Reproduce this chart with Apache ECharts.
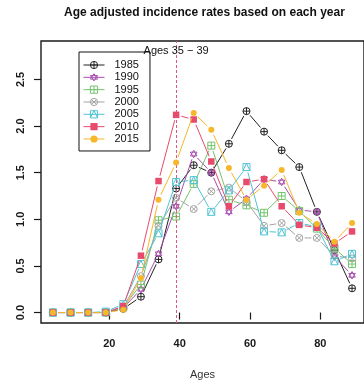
<!DOCTYPE html>
<html>
<head>
<meta charset="utf-8">
<script src="https://cdn.jsdelivr.net/npm/echarts@6/dist/echarts.min.js"></script>
<style>
  html, body { margin: 0; padding: 0; background: #fff; }
  #chart { width: 364px; height: 385px; }
</style>
</head>
<body>
<div id="chart"></div>
<script>
// Upper age of each five-year age group
const ages = [4, 9, 14, 19, 24, 29, 34, 39, 44, 49, 54, 59, 64, 69, 74, 79, 84, 89];

// Age adjusted incidence rates per year
const years = ['1985', '1990', '1995', '2000', '2005', '2010', '2015'];
const rate1985 = [0, 0, 0, 0, 0.04, 0.17, 0.57, 1.33, 1.58, 1.50, 1.81, 2.16, 1.94, 1.74, 1.56, 1.08, 0.67, 0.26];
const rate1990 = [0, 0, 0, 0, 0.05, 0.25, 0.63, 1.14, 1.70, 1.50, 1.08, 1.22, 1.43, 1.40, 1.10, 1.08, 0.60, 0.40];
const rate1995 = [0, 0, 0, 0, 0.06, 0.30, 0.99, 1.03, 1.38, 1.79, 1.21, 1.15, 1.07, 1.25, 1.09, 0.90, 0.69, 0.52];
const rate2000 = [0, 0, 0, 0, 0.06, 0.39, 0.93, 1.23, 1.11, 1.30, 1.34, 1.19, 0.93, 0.96, 0.80, 0.80, 0.61, 0.58];
const rate2005 = [0, 0, 0, 0.01, 0.09, 0.52, 0.85, 1.40, 1.42, 1.08, 1.31, 1.56, 0.87, 0.86, 0.96, 0.92, 0.55, 0.63];
const rate2010 = [0, 0, 0, 0, 0.07, 0.61, 1.41, 2.12, 2.07, 1.62, 1.14, 1.40, 1.43, 1.14, 0.94, 0.91, 0.74, 0.87];
const rate2015 = [0, 0, 0, 0, 0.03, 0.37, 1.21, 1.61, 2.14, 1.96, 1.55, 1.21, 1.36, 1.53, 1.07, 0.95, 0.76, 0.96];
const rates = [rate1985, rate1990, rate1995, rate2000, rate2005, rate2010, rate2015];

// Axis ticks
const xTicks = [20, 40, 60, 80];
const yTicks = [0, 0.5, 1.0, 1.5, 2.0, 2.5];

// Reference age group marker
const refAge = 39;
const refLabel = 'Ages 35 \u2212 39';
const refLabelY = 2.8;

const colors = ['#222222', '#A84EAF', '#74C46C', '#A3A3A3', '#4FC3D3', '#E84A6C', '#F6B72A'];

// Plot symbols: open shapes are stroked, the last two are filled
const circle = 'M-1,0A1,1,0,1,0,1,0A1,1,0,1,0,-1,0Z';
const symbols = [
  'path://' + circle + 'M-1,0L1,0M0,-1L0,1',
  'path://M0,-1L0.866,0.5L-0.866,0.5ZM0,1L0.866,-0.5L-0.866,-0.5Z',
  'path://M-1,-1L1,-1L1,1L-1,1ZM-1,0L1,0M0,-1L0,1',
  'path://' + circle + 'M-0.707,-0.707L0.707,0.707M-0.707,0.707L0.707,-0.707',
  'path://M-1,-1L1,-1L1,1L-1,1ZM-1,1L0,-1L1,1',
  'rect',
  'circle'
];
const filled = [false, false, false, false, false, true, true];
const symbolSizes = [7, 7.5, 7, 7, 7, 6.5, 6];

// Lines stop short of each point, leaving a gap around the symbol
const gap = 5.5;

const font = '"Liberation Sans", Arial, Helvetica, sans-serif';

function styleFor(k) {
  return filled[k]
    ? { color: colors[k], borderWidth: 0 }
    : { color: 'rgba(0,0,0,0)', borderColor: colors[k], borderWidth: 1 };
}

const series = [];
years.forEach((y, k) => {
  // connecting segments between neighbouring age groups
  const segs = [];
  for (let i = 1; i < ages.length; i++) {
    segs.push([ages[i - 1], rates[k][i - 1], ages[i], rates[k][i]]);
  }
  series.push({
    name: y + ' segments',
    type: 'custom',
    silent: true,
    data: segs,
    encode: { x: [0, 2], y: [1, 3] },
    z: 2 + k,
    renderItem: (params, api) => {
      const p0 = api.coord([api.value(0), api.value(1)]);
      const p1 = api.coord([api.value(2), api.value(3)]);
      const dx = p1[0] - p0[0], dy = p1[1] - p0[1];
      const len = Math.sqrt(dx * dx + dy * dy);
      if (len <= 2 * gap) return null;
      const ux = dx / len, uy = dy / len;
      return {
        type: 'line',
        shape: {
          x1: p0[0] + ux * gap, y1: p0[1] + uy * gap,
          x2: p1[0] - ux * gap, y2: p1[1] - uy * gap
        },
        style: { stroke: colors[k], lineWidth: 1 }
      };
    }
  });
  // the points themselves
  series.push({
    name: y,
    type: 'line',
    data: ages.map((a, i) => [a, rates[k][i]]),
    symbol: symbols[k],
    symbolSize: symbolSizes[k],
    symbolKeepAspect: true,
    showAllSymbol: true,
    lineStyle: { color: colors[k], width: 0, opacity: 0 },
    itemStyle: styleFor(k),
    emphasis: { disabled: true },
    z: 2 + k
  });
});

// Dashed reference line and its caption
series.push({
  name: 'ref',
  type: 'line',
  data: [],
  silent: true,
  markLine: {
    silent: true,
    symbol: ['none', 'none'],
    label: { show: false },
    lineStyle: { color: '#E2577F', type: [3, 2], width: 1 },
    data: [{ xAxis: refAge }]
  },
  markPoint: {
    silent: true,
    symbol: 'circle',
    symbolSize: 0,
    label: {
      show: true,
      position: 'inside',
      formatter: refLabel,
      color: '#111',
      fontFamily: font,
      fontSize: 11
    },
    data: [{ coord: [refAge, refLabelY] }]
  },
  z: 1
});

const chart = echarts.init(document.getElementById('chart'), null, { renderer: 'canvas' });
chart.setOption({
  animation: false,
  backgroundColor: '#fff',
  title: {
    text: 'Age adjusted incidence rates based on each year',
    left: 204.5,
    top: 7,
    padding: 0,
    textAlign: 'center',
    textStyle: { fontFamily: font, fontSize: 12, fontWeight: 'bold', color: '#111' }
  },
  legend: {
    data: years.map((y, k) => ({
      name: y,
      itemStyle: styleFor(k),
      lineStyle: { color: colors[k], width: 1, opacity: 1 }
    })),
    orient: 'vertical',
    left: 79,
    top: 52,
    padding: [7, 11, 6, 4],
    itemWidth: 21,
    itemHeight: 9,
    itemGap: 0.33,
    borderColor: '#111',
    borderWidth: 1,
    selectedMode: false,
    textStyle: { fontFamily: font, fontSize: 11, color: '#111', lineHeight: 12, padding: [0, 0, 0, 5] }
  },
  grid: {
    left: 41,
    top: 41,
    width: 327.3,
    height: 285.7,
    show: true,
    borderColor: '#1a1a1a',
    borderWidth: 1.4,
    backgroundColor: 'transparent'
  },
  xAxis: {
    type: 'value',
    min: 0.6,
    max: 92.4,
    name: 'Ages',
    nameLocation: 'middle',
    nameGap: 46,
    nameTextStyle: { fontFamily: font, fontSize: 11, color: '#333' },
    axisLine: { show: false },
    splitLine: { show: false },
    axisTick: { show: true, customValues: xTicks, length: 7, inside: false, lineStyle: { color: '#1a1a1a', width: 1.2 } },
    axisLabel: { customValues: xTicks, margin: 15, fontFamily: font, fontSize: 11, fontWeight: 'bold', color: '#1a1a1a' }
  },
  yAxis: {
    type: 'value',
    min: -0.112,
    max: 2.912,
    axisLine: { show: false },
    splitLine: { show: false },
    axisTick: { show: true, customValues: yTicks, length: 7, inside: false, lineStyle: { color: '#1a1a1a', width: 1.2 } },
    axisLabel: {
      customValues: yTicks,
      rotate: 90,
      margin: 15,
      fontFamily: font,
      fontSize: 11,
      fontWeight: 'bold',
      color: '#1a1a1a',
      formatter: v => v.toFixed(1)
    }
  },
  series: series
});
</script>
</body>
</html>
